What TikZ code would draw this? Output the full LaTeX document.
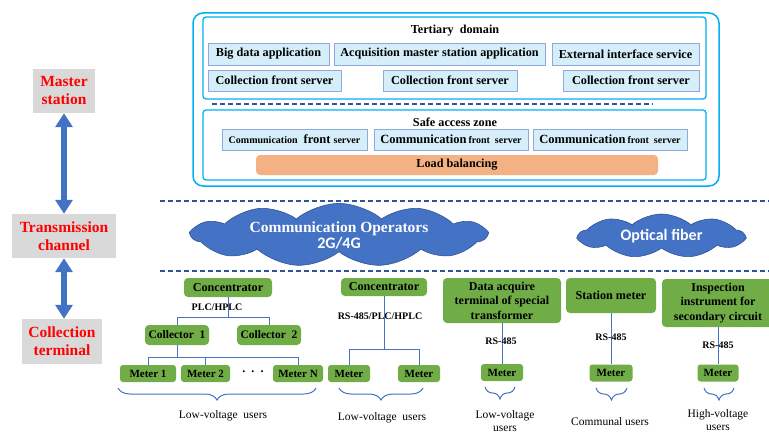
\documentclass[tikz,border=0pt]{standalone}
\usepackage{fontspec}
\setmainfont{Liberation Serif}
\newfontfamily\calib{Carlito}
\usetikzlibrary{arrows.meta,shapes.symbols,decorations.pathreplacing}
\definecolor{cyanline}{HTML}{00B0F0}
\definecolor{boxfill}{HTML}{D5EEFA}
\definecolor{boxedge}{HTML}{8EA9DB}
\definecolor{dashblue}{HTML}{2F5597}
\definecolor{orangefill}{HTML}{F4B183}
\definecolor{greenfill}{HTML}{70AD47}
\definecolor{blueone}{HTML}{4472C4}
\definecolor{grayfill}{HTML}{D9D9D9}
\begin{document}
\begin{tikzpicture}[x=1pt,y=-1pt,
 every node/.style={inner sep=0pt, font=\bfseries\fontsize{12.2}{14}\selectfont},
 srv/.style={draw=boxedge, fill=boxfill, line width=0.8pt, minimum height=21pt},
 container/.style={draw=cyanline, line width=1.3pt, rounded corners=3pt},
 grn/.style={fill=greenfill, rounded corners=4pt, align=center},
 mtr/.style={fill=greenfill, rounded corners=3pt, minimum height=17pt, font=\bfseries\fontsize{11}{12}\selectfont},
 lvl/.style={fill=grayfill, text=red, align=center, font=\bfseries\fontsize{15.5}{18}\selectfont},
 lbl/.style={font=\bfseries\fontsize{10}{12}\selectfont},
 usr/.style={font=\fontsize{11.5}{13}\selectfont, align=center},
 tree/.style={draw=blueone, line width=1pt},
 brc/.style={draw=blueone, line width=1pt, decorate, decoration={brace, mirror, amplitude=12pt}},
 dsh/.style={draw=dashblue, line width=1.5pt, dash pattern=on 5pt off 3pt},
 dbl/.style={draw=blueone, line width=6pt, {Triangle[width=17pt,length=14pt]}-{Triangle[width=17pt,length=14pt]}},
 cld/.style={cloud, cloud ignores aspect, cloud puffs=11, cloud puff arc=80, fill=blueone, draw=dashblue, line width=0.6pt, text=white, align=center},
]
\useasboundingbox (0,0) rectangle (769,436);

% ---- top section
\node[draw=cyanline, line width=1.5pt, rounded corners=10pt, minimum width=526pt, minimum height=173pt] (outer) at (456,99.5) {};
\node[container, minimum width=503pt, minimum height=82pt] (tert) at (454.5,58) {};
\node (terttitle) at (455,31) {Tertiary\ \ domain};
\node[srv, minimum width=121pt, minimum height=22pt] (bigdata) at (268.5,54) {Big data application};
\node[srv, minimum width=211pt, minimum height=22pt] (acq) at (439.5,54) {Acquisition master station application};
\node[srv, minimum width=147pt, minimum height=22pt] (ext) at (625.5,54) {External interface service};
\node[srv, minimum width=133pt] (cfsa) at (274.5,80.5) {Collection front server};
\node[srv, minimum width=134pt] (cfsb) at (450,80.5) {Collection front server};
\node[srv, minimum width=136pt] (cfsc) at (631,80.5) {Collection front server};
\draw[dsh] (212,104) -- (653,104);
\node[container, minimum width=503pt, minimum height=70pt] (safe) at (454.5,145) {};
\node (safetitle) at (455,122) {Safe access zone};
\node[srv, minimum width=145pt] (comma) at (294.5,139.5) {{\fontsize{10}{11}\selectfont Communication}\ \ {\fontsize{12.5}{13}\selectfont front} {\fontsize{10}{11}\selectfont server}};
\node[srv, minimum width=154pt] (commb) at (451,139.5) {{\fontsize{12.5}{13}\selectfont Communication}\,{\fontsize{10}{11}\selectfont front\ \ server}};
\node[srv, minimum width=154pt] (commc) at (610,139.5) {{\fontsize{12.5}{13}\selectfont Communication}\,{\fontsize{10}{11}\selectfont front\ \ server}};
\node[fill=orangefill, rounded corners=4pt, minimum width=402pt, minimum height=20pt] (load) at (457,165) {Load balancing};

% ---- left levels
\node[lvl, minimum width=62pt, minimum height=44pt] (master) at (64,91) {Master\\station};
\node[lvl, minimum width=104pt, minimum height=44pt] (trans) at (64,236) {Transmission\\channel};
\node[lvl, minimum width=80pt, minimum height=45pt] (collect) at (62,341.5) {Collection\\terminal};
\draw[dbl] (master.south) -- (trans.north);
\draw[dbl] (trans.south) -- (trans.south |- collect.north);

% ---- separators
\draw[dsh] (160,201) -- (769,201);
\draw[dsh] (160,271) -- (769,271);

% ---- clouds
\node[cld, minimum width=294pt, minimum height=54pt, font=\bfseries\fontsize{15.5}{17}\selectfont] (operators) at (339,235) {Communication Operators\\[-1pt]{\calib\fontsize{16}{17}\selectfont 2G/4G}};
\node[cld, cloud puffs=9, minimum width=165pt, minimum height=44pt, font=\calib\bfseries\fontsize{16}{18}\selectfont] (fiber) at (661.5,236) {Optical fiber};

% ---- collection terminal: group 1
\node[grn, minimum width=88pt, minimum height=19pt] (conca) at (228,287.5) {Concentrator};
\node[lbl] (plc) at (217,307) {PLC/HPLC};
\node[grn, minimum width=64pt, minimum height=20pt, font=\bfseries\fontsize{11.5}{13}\selectfont] (cola) at (177,335) {Collector\ \ 1};
\node[grn, minimum width=64pt, minimum height=20pt, font=\bfseries\fontsize{11.5}{13}\selectfont] (colb) at (269,335) {Collector\ \ 2};
\node[mtr, minimum width=56pt] (meterone) at (148,373.5) {Meter 1};
\node[mtr, minimum width=49pt] (metertwo) at (205.5,373.5) {Meter 2};
\node (dots) at (253,372) {.\ \ .\ \ .};
\node[mtr, minimum width=50pt] (metern) at (298,373.5) {Meter N};
\draw[tree] (conca.south) -- ++(0,20) -| (cola.north);
\draw[tree] (conca.south) ++(0,20) -| (colb.north);
\draw[tree] (cola.south) -- ++(0,12) -| (meterone.north);
\draw[tree] (cola.south) ++(0,12) -| (metertwo.north);
\draw[tree] (cola.south) ++(0,12) -| (metern.north);
\coordinate (bal) at (118,388);
\coordinate (bar) at (316,388);
\draw[brc] (bal) -- (bar);
\node[usr] (usra) at (223,416) {Low-voltage\ \ users};

% ---- group 2
\node[grn, minimum width=86pt, minimum height=18pt] (concb) at (384,287) {Concentrator};
\node[lbl] (rsplc) at (380,316) {RS-485/PLC/HPLC};
\node[mtr, minimum width=42pt] (metera) at (349,373.5) {Meter};
\node[mtr, minimum width=42pt] (meterb) at (419,373.5) {Meter};
\draw[tree] (concb.south) -- ++(0,53) -| (metera.north);
\draw[tree] (concb.south) ++(0,53) -| (meterb.north);
\coordinate (bbl) at (339,388);
\coordinate (bbr) at (423,388);
\draw[brc] (bbl) -- (bbr);
\node[usr] (usrb) at (382,418) {Low-voltage\ \ users};

% ---- group 3
\node[grn, minimum width=118pt, minimum height=45pt, font=\bfseries\fontsize{12}{14.5}\selectfont] (dat) at (502,300.5) {Data acquire\\terminal of special\\transformer};
\node[mtr, minimum width=42pt] (meterc) at (502,372.5) {Meter};
\draw[tree] (dat.south) -- (meterc.north);
\node[lbl] (rsa) at (501,341) {RS-485};
\coordinate (bcl) at (485,387);
\coordinate (bcr) at (515,387);
\draw[brc] (bcl) -- (bcr);
\node[usr] (usrc) at (505,421) {Low-voltage\\users};

% ---- group 4
\node[grn, minimum width=90pt, minimum height=35pt] (station) at (611,295.5) {Station meter};
\node[mtr, minimum width=43pt] (meterd) at (611,373) {Meter};
\draw[tree] (station.south) -- (meterd.north);
\node[lbl] (rsb) at (611,337) {RS-485};
\coordinate (bdl) at (596,388);
\coordinate (bdr) at (627,388);
\draw[brc] (bdl) -- (bdr);
\node[usr] (usrd) at (610,422) {Communal users};

% ---- group 5
\node[grn, minimum width=112pt, minimum height=48pt, font=\bfseries\fontsize{12}{14.5}\selectfont] (insp) at (718,303) {Inspection\\instrument\ for\\secondary circuit};
\node[mtr, minimum width=41pt] (metere) at (718,373) {Meter};
\draw[tree] (insp.south) -- (metere.north);
\node[lbl] (rsc) at (718,345) {RS-485};
\coordinate (bel) at (704,388);
\coordinate (ber) at (734,388);
\draw[brc] (bel) -- (ber);
\node[usr] (usre) at (718,420) {High-voltage\\users};
\end{tikzpicture}
\end{document}
